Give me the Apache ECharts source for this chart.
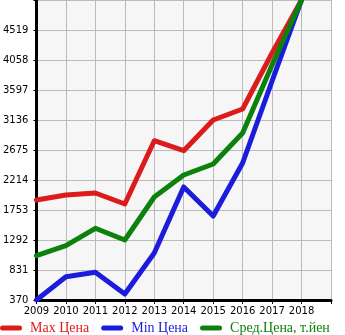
<!DOCTYPE html>
<html><head><meta charset="utf-8">
<script src="https://cdn.jsdelivr.net/npm/echarts@6/dist/echarts.min.js"></script>
<style>html,body{margin:0;padding:0;background:#fff}#c{width:345px;height:335px}</style>
</head><body><div id="c"></div>
<script>
var years = ['2009','2010','2011','2012','2013','2014','2015','2016','2017','2018',''];
var maxPrice = [1907, 1983, 2014, 1845, 2818, 2664, 3136, 3305, 4165, 4980];
var minPrice = [370, 728, 796, 462, 1092, 2107, 1661, 2475, 3735, 4980];
var avgPrice = [1051, 1205, 1472, 1292, 1953, 2291, 2460, 2936, 3981, 4980];
var names = ['Max Цена', 'Min Цена', 'Сред.Цена, т.йен'];
var colors = ['#dc1c1c', '#1c1cdc', '#0c820c'];
var yMin = 370, yMax = 4980, yStep = 461;

var chart = echarts.init(document.getElementById('c'));
function mk(i, data) {
  return {name: names[i], type: 'line', data: data, symbol: 'none', smooth: false,
    lineStyle: {width: 5, color: colors[i], cap: 'round', join: 'round'}, itemStyle: {color: colors[i]}};
}
chart.setOption({
  animation: false,
  backgroundColor: '#fff',
  grid: {left: 31, right: 14, top: 0, bottom: 35, show: true, backgroundColor: '#f6f6f6', borderWidth: 0},
  legend: {top: 321, left: 0, padding: 0, itemWidth: 22, itemHeight: 5, itemGap: 12,
    icon: 'path://M2.5,0 L19.5,0 A2.5,2.5 0 0 1 19.5,5 L2.5,5 A2.5,2.5 0 0 1 2.5,0 Z',
    data: names.map(function(n, i){ return {name: n, textStyle: {color: colors[i]}}; }),
    textStyle: {fontFamily: 'Liberation Serif', fontSize: 14, padding: [0, 0, 0, 3]}},
  xAxis: {type: 'category', data: years, boundaryGap: false,
    axisLine: {lineStyle: {color: '#000', width: 3}},
    axisTick: {show: true, length: 4, lineStyle: {color: '#000'}},
    axisLabel: {color: '#000', fontFamily: 'DejaVu Sans', fontSize: 10, margin: 6, interval: 0},
    splitLine: {show: true, lineStyle: {color: '#bbb', width: 1}}},
  yAxis: {type: 'value', min: yMin, max: yMax, interval: yStep,
    axisLine: {show: true, lineStyle: {color: '#000', width: 3}},
    axisTick: {show: true, length: 3, lineStyle: {color: '#000'}},
    axisLabel: {color: '#000', fontFamily: 'DejaVu Sans', fontSize: 10, margin: 8,
      formatter: function(v){ return v >= yMax ? '' : String(v); }},
    splitLine: {show: true, lineStyle: {color: '#bbb', width: 1}}},
  series: [mk(0, maxPrice), mk(1, minPrice), mk(2, avgPrice)]
});
</script></body></html>
